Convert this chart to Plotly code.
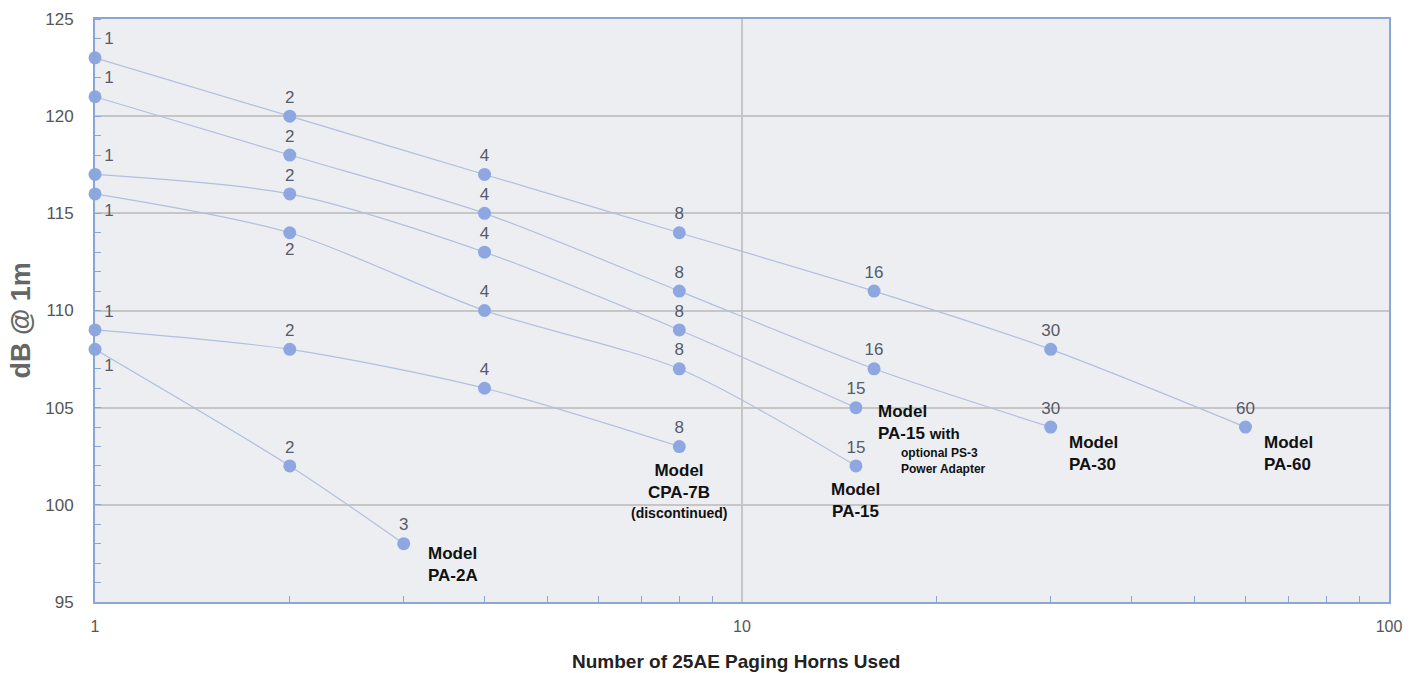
import math
import plotly.graph_objects as go

# ---- data ----
horns_pa60 = [1, 2, 4, 8, 16, 30, 60]
db_pa60 = [123, 120, 117, 114, 111, 108, 104]

horns_pa30 = [1, 2, 4, 8, 16, 30]
db_pa30 = [121, 118, 115, 111, 107, 104]

horns_pa15ps3 = [1, 2, 4, 8, 15]
db_pa15ps3 = [117, 116, 113, 109, 105]

horns_pa15 = [1, 2, 4, 8, 15]
db_pa15 = [116, 114, 110, 107, 102]

horns_cpa7b = [1, 2, 4, 8]
db_cpa7b = [109, 108, 106, 103]

horns_pa2a = [1, 2, 3]
db_pa2a = [108, 102, 98]

x_tickvals = [1, 10, 100]
x_ticktext = ["1", "10", "100"]
x_minor_vals = [2, 3, 4, 5, 6, 7, 8, 9, 20, 30, 40, 50, 60, 70, 80, 90]
y_tickvals = [95, 100, 105, 110, 115, 120, 125]

LINE_C = "#b0c0de"
MARK_C = "#8ea7e0"
LABEL_C = "#575a68"
AXIS_C = "#88a6d6"
GRID_C = "#c6c6c6"
FONT = "Liberation Sans, Arial"

series = [
    (horns_pa60, db_pa60, ["top right"] + ["top center"] * 6),
    (horns_pa30, db_pa30, ["top right"] + ["top center"] * 5),
    (horns_pa15ps3, db_pa15ps3, ["top right"] + ["top center"] * 4),
    (horns_pa15, db_pa15, ["bottom right", "bottom center"] + ["top center"] * 3),
    (horns_cpa7b, db_cpa7b, ["top right"] + ["top center"] * 3),
    (horns_pa2a, db_pa2a, ["bottom right", "top center", "top center"]),
]

fig = go.Figure()
for xs, ys, pos in series:
    fig.add_trace(go.Scatter(
        x=xs, y=ys,
        mode="lines+markers+text",
        text=[str(v) for v in xs],
        textposition=pos,
        textfont=dict(family=FONT, size=17, color=LABEL_C),
        line=dict(color=LINE_C, width=1.2, shape="spline", smoothing=0.8),
        marker=dict(color=MARK_C, size=13),
        cliponaxis=False,
        showlegend=False,
    ))

model_font = dict(family=FONT, size=17, color="#111111")


def note(xs, ys, text, xanchor, xshift, yshift, font=model_font, align="left"):
    fig.add_annotation(x=math.log10(xs[-1]), y=ys[-1], xref="x", yref="y",
                       text=text, showarrow=False, align=align,
                       xanchor=xanchor, yanchor="top",
                       xshift=xshift, yshift=yshift, font=font)


note(horns_pa2a, db_pa2a, "<b>Model<br>PA-2A</b>", "left", 22, 2)
note(horns_cpa7b, db_cpa7b, "<b>Model<br>CPA-7B</b>", "center", 0, -12, align="center")
note(horns_cpa7b, db_cpa7b, "<b>(discontinued)</b>", "center", 0, -56,
     font=dict(family=FONT, size=14, color="#111111"), align="center")
note(horns_pa15, db_pa15, "<b>Model<br>PA-15</b>", "center", 0, -12, align="center")
note(horns_pa15ps3, db_pa15ps3,
     "<b>Model<br>PA-15 <span style='font-size:15px'>with</span></b>", "left", 20, 8)
note(horns_pa15ps3, db_pa15ps3, "<b>optional PS-3<br>Power Adapter</b>", "left", 43, -36,
     font=dict(family=FONT, size=12, color="#111111"))
note(horns_pa30, db_pa30, "<b>Model<br>PA-30</b>", "left", 16, -4)
note(horns_pa60, db_pa60, "<b>Model<br>PA-60</b>", "left", 17, -4)

# axis titles
fig.add_annotation(x=0.5, y=0, xref="paper", yref="paper",
                   text="<b>Number of 25AE Paging Horns Used</b>", showarrow=False,
                   xanchor="center", yanchor="middle", xshift=-6, yshift=-59,
                   font=dict(family=FONT, size=19, color="#222222"))
fig.add_annotation(x=0, y=0.5, xref="paper", yref="paper",
                   text="<b>dB @ 1m</b>", showarrow=False, textangle=-90,
                   xanchor="center", yanchor="middle", xshift=-75, yshift=-10,
                   font=dict(family=FONT, size=27, color="#666666"))

fig.update_layout(
    width=1420, height=673,
    margin=dict(l=95, r=31, t=19, b=71),
    paper_bgcolor="white",
    plot_bgcolor="#eceef2",
    font=dict(family=FONT, color="#555555"),
)

fig.update_xaxes(
    type="log",
    range=[0, 2],
    automargin=False,
    tickmode="array", tickvals=x_tickvals, ticktext=x_ticktext,
    tickfont=dict(size=16, color="#555555"),
    ticks="", ticklabelstandoff=9,
    showgrid=True, gridcolor=GRID_C, gridwidth=1.5,
    showline=True, linecolor=AXIS_C, linewidth=2, mirror=True,
    zeroline=False,
    minor=dict(tickmode="array", tickvals=x_minor_vals, ticks="inside",
               ticklen=6, tickcolor=AXIS_C, tickwidth=1.2, showgrid=False),
)

fig.update_yaxes(
    range=[95, 125],
    automargin=False,
    tickmode="array", tickvals=y_tickvals,
    tickfont=dict(size=17, color="#555555"),
    ticks="", ticklabelstandoff=16,
    showgrid=True, gridcolor=GRID_C, gridwidth=1.5,
    showline=True, linecolor=AXIS_C, linewidth=2, mirror=True,
    zeroline=False,
    minor=dict(dtick=1, ticks="inside", ticklen=6, tickcolor=AXIS_C,
               tickwidth=1.2, showgrid=False),
)

fig.write_html(
    "out.html",
    config={"displayModeBar": False},
    post_script="document.body.style.margin='0';document.body.style.overflow='hidden';",
)
